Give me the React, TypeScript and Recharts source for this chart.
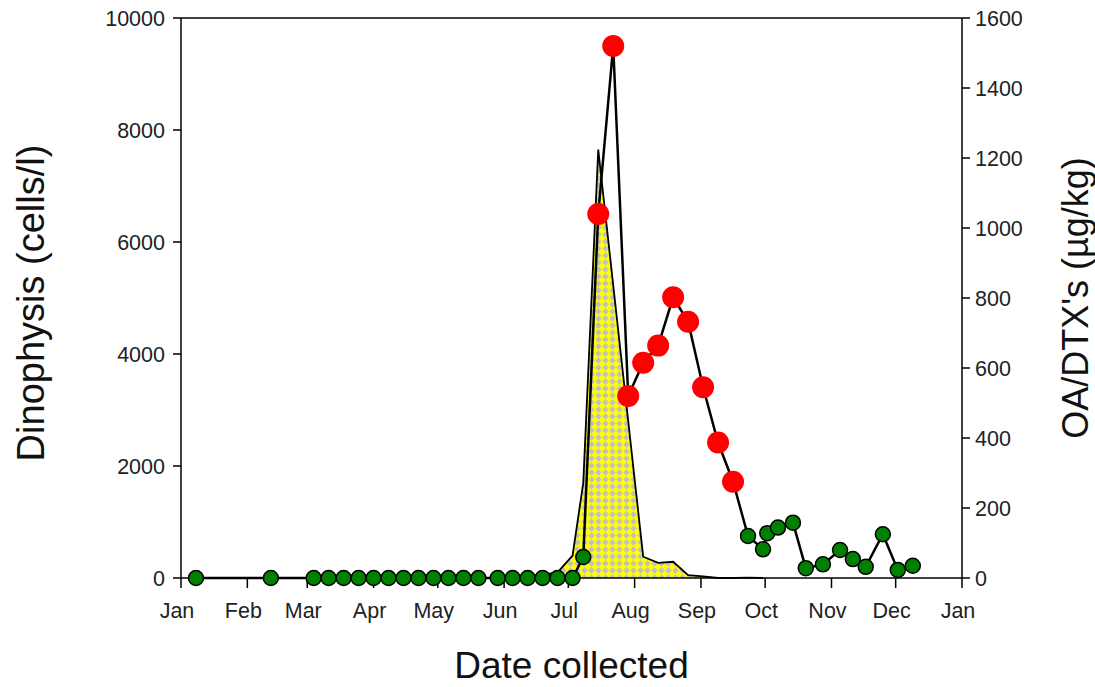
import React from 'react'
import { ComposedChart, Area, Line, XAxis, YAxis, ReferenceLine, Label } from 'recharts'

// sampling dates as day of year
const sampleDays = [
  7, 42, 62, 69, 76, 83, 90, 97, 104, 111, 118, 125, 132, 139, 148, 155, 162, 169, 176, 183,
  188, 195, 202, 209, 216, 223, 230, 237, 244, 251, 258,
  265, 272, 274, 279, 286, 292, 300, 308, 314, 320, 328, 335, 342,
]

// Dinophysis (cells/l), null = not counted
const cellCounts = [
  0, 0, 0, 0, 0, 0, 0, 0, 0, 0, 0, 0, 0, 0, 0, 0, 30, 60, 100, 400,
  1700, 7650, null, null, 380, 270, 290, 50, 30, 0, 0,
  8, 0, null, null, null, null, null, null, null, null, null, null, null,
]

// OA/DTX's (µg/kg)
const toxinLevels = [
  0, 0, 0, 0, 0, 0, 0, 0, 0, 0, 0, 0, 0, 0, 0, 0, 0, 0, 0, 0,
  60, 1040, 1520, 520, 615, 664, 802, 732, 545, 387, 275,
  120, 82, 128, 144, 158, 28, 39, 80, 54, 32, 125, 23, 35,
]

const monthTicks = [0, 31, 59, 90, 120, 151, 181, 212, 243, 273, 304, 334, 365]
const monthLabels = ['Jan', 'Feb', 'Mar', 'Apr', 'May', 'Jun', 'Jul', 'Aug', 'Sep', 'Oct', 'Nov', 'Dec', 'Jan']
const cellTicks = [0, 2000, 4000, 6000, 8000, 10000]
const toxinTicks = [0, 200, 400, 600, 800, 1000, 1200, 1400, 1600]

// regulatory limit, above it the marker turns red
const TOXIN_LIMIT = 160

const data = sampleDays.map((day, i) => ({ day, cells: cellCounts[i], toxin: toxinLevels[i] }))

const font = '"Liberation Sans", Arial, sans-serif'
const tickStyle = { fill: '#222', fontSize: 21.5, fontFamily: font }

function ToxinDot(props: any) {
  const { cx, cy, value, index } = props
  if (value == null || cx == null) return <g key={`d${index}`} />
  if (value > TOXIN_LIMIT) {
    return <circle key={`d${index}`} cx={cx} cy={cy} r={11} fill="#ff0000" />
  }
  return <circle key={`d${index}`} cx={cx} cy={cy} r={7.5} fill="#008000" stroke="#000" strokeWidth={1.5} />
}

export default function App() {
  return (
    <div style={{ position: 'absolute', left: 0, top: 0, background: '#fff' }}>
      <ComposedChart width={1095} height={687} data={data} margin={{ top: 18, right: 0, bottom: 0, left: 0 }}>
        <defs>
          <pattern id="checker" width="7" height="7" patternUnits="userSpaceOnUse">
            <rect width="7" height="7" fill="#ffff00" />
            <polygon points="3.5,0.3 6.7,3.5 3.5,6.7 0.3,3.5" fill="#c0c0c0" />
          </pattern>
        </defs>
        <XAxis
          dataKey="day"
          type="number"
          domain={[0, 365]}
          ticks={monthTicks}
          interval={0}
          tickFormatter={(v) => monthLabels[monthTicks.indexOf(v)]}
          height={109}
          tickSize={10}
          tickMargin={15}
          tick={{ ...tickStyle, dx: -4 }}
          axisLine={{ stroke: '#000', strokeWidth: 1.5 }}
          tickLine={{ stroke: '#000', strokeWidth: 1.5 }}
        >
          <Label
            content={(p: any) => (
              <text
                x={p.viewBox.x + p.viewBox.width / 2}
                y={p.viewBox.y + 100}
                textAnchor="middle"
                fontSize={37}
                fontFamily={font}
                fill="#111"
              >
                Date collected
              </text>
            )}
          />
        </XAxis>
        <YAxis
          yAxisId="left"
          domain={[0, 10000]}
          ticks={cellTicks}
          width={181}
          tickSize={8}
          tickMargin={8}
          tick={tickStyle}
          axisLine={{ stroke: '#000', strokeWidth: 1.5 }}
          tickLine={{ stroke: '#000', strokeWidth: 1.5 }}
        >
          <Label
            content={(p: any) => {
              const x = p.viewBox.x + 31
              const y = p.viewBox.y + p.viewBox.height / 2 + 5
              return (
                <text x={x} y={y} transform={`rotate(-90 ${x} ${y})`} textAnchor="middle" dominantBaseline="central" fontSize={38} fontFamily={font} fill="#111">
                  Dinophysis (cells/l)
                </text>
              )
            }}
          />
        </YAxis>
        <YAxis
          yAxisId="right"
          orientation="right"
          domain={[0, 1600]}
          ticks={toxinTicks}
          width={133}
          tickSize={8}
          tickMargin={5}
          tick={tickStyle}
          axisLine={{ stroke: '#000', strokeWidth: 1.5 }}
          tickLine={{ stroke: '#000', strokeWidth: 1.5 }}
        >
          <Label
            content={(p: any) => {
              const x = p.viewBox.x + 113
              const y = p.viewBox.y + p.viewBox.height / 2
              return (
                <text x={x} y={y} transform={`rotate(-90 ${x} ${y})`} textAnchor="middle" dominantBaseline="central" fontSize={36} fontFamily={font} fill="#111">
                  OA/DTX's (µg/kg)
                </text>
              )
            }}
          />
        </YAxis>
        <ReferenceLine yAxisId="left" y={10000} stroke="#000" strokeWidth={1.5} />
        <Area
          yAxisId="left"
          dataKey="cells"
          type="linear"
          connectNulls
          fill="url(#checker)"
          fillOpacity={1}
          stroke="#000"
          strokeWidth={1.8}
          isAnimationActive={false}
          dot={false}
          activeDot={false}
        />
        <Line
          yAxisId="right"
          dataKey="toxin"
          type="linear"
          stroke="#000"
          strokeWidth={2.5}
          dot={ToxinDot}
          activeDot={false}
          isAnimationActive={false}
        />
      </ComposedChart>
    </div>
  )
}
